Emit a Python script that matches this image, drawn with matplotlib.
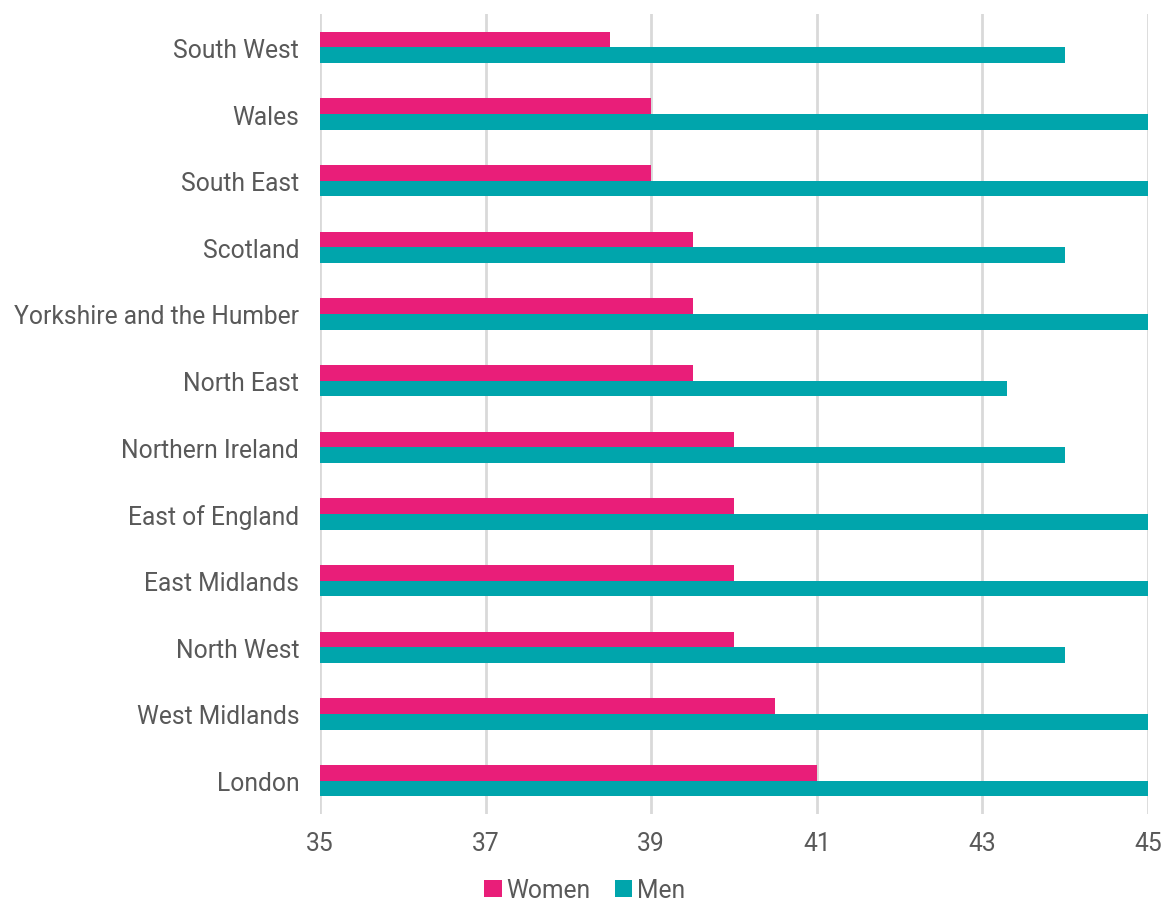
import matplotlib.pyplot as plt
import numpy as np

regions = ['South West', 'Wales', 'South East', 'Scotland', 'Yorkshire and the Humber',
           'North East', 'Northern Ireland', 'East of England', 'East Midlands',
           'North West', 'West Midlands', 'London']
women = [38.5, 39, 39, 39.5, 39.5, 39.5, 40, 40, 40, 40, 40.5, 41]
men = [44, 45, 45, 44, 45, 43.3, 44, 45, 45, 44, 45, 45]

pink = '#E91E79'
teal = '#00A5AC'
grey = '#595959'

plt.rcParams['font.family'] = ['Roboto', 'DejaVu Sans']

fig = plt.figure(figsize=(11.63, 9.04), dpi=100)
ax = fig.add_axes([0.2752, 0.0985, 0.7119, 0.8849])

y = np.arange(len(regions))
h = 0.235
ax.barh(y - h / 2, np.array(women) - 35, left=35, height=h, color=pink, label='Women', zorder=3)
ax.barh(y + h / 2, np.array(men) - 35, left=35, height=h, color=teal, label='Men', zorder=3)

ax.set_xlim(35, 45)
ax.set_ylim(len(regions) - 0.5, -0.5)
ax.set_xticks([35, 37, 39, 41, 43, 45])
ax.set_yticks(y)
ax.set_yticklabels(regions)
ax.tick_params(axis='both', length=0, labelsize=17.7, labelcolor=grey)
ax.tick_params(axis='y', pad=15)
ax.tick_params(axis='x', pad=12)
ax.grid(axis='x', color='#D9D9D9', linewidth=2, zorder=0)
for s in ax.spines.values():
    s.set_visible(False)

ax.legend(loc='center', bbox_to_anchor=(0.32, -0.095), ncol=2, frameon=False,
          fontsize=17.7, labelcolor=grey, handlelength=0.7, handleheight=0.7,
          handletextpad=0.2, columnspacing=1.0)

fig.savefig('out.png', dpi=100, facecolor='white')
